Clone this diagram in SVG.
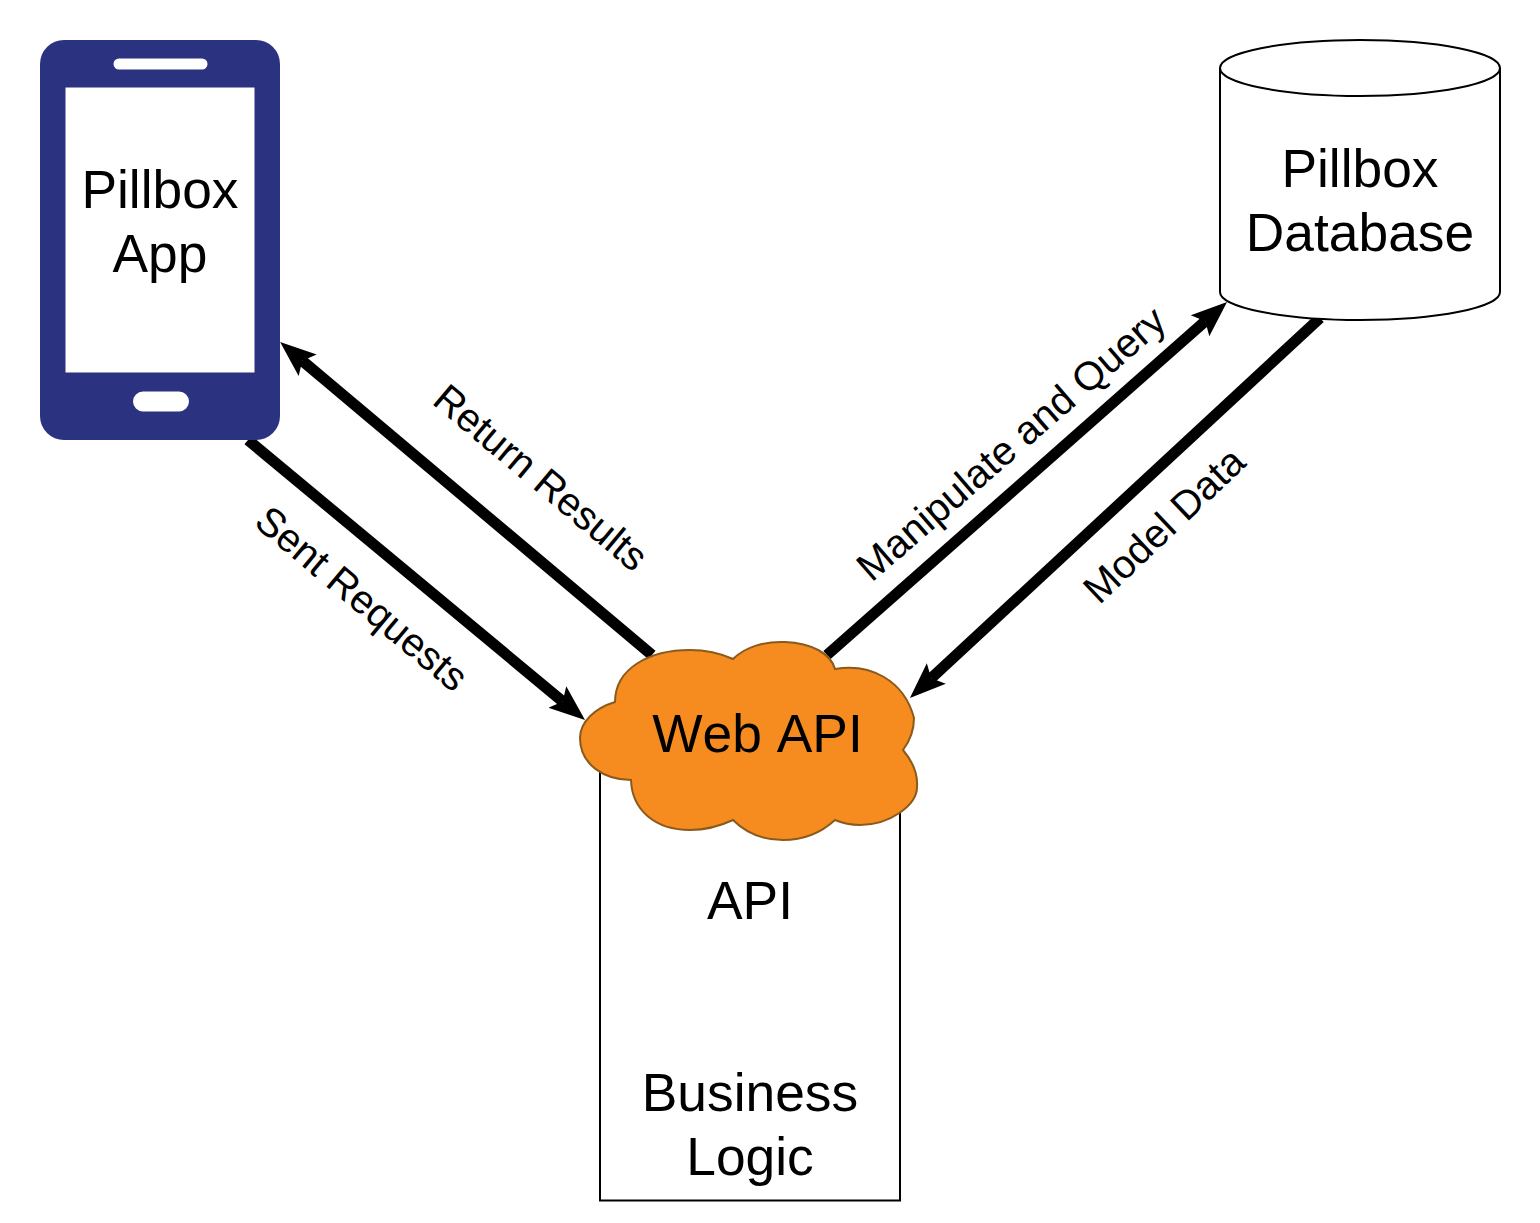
<svg xmlns="http://www.w3.org/2000/svg" width="1540" height="1223" viewBox="0 0 1540 1223">
<style>
text{font-family:"Liberation Sans",Arial,sans-serif;fill:#000;text-anchor:middle}
.big{font-size:53.33px}
.lab{font-size:40px}
.arrow{fill:none;stroke:#000;stroke-width:11;marker-end:url(#head)}
</style>
<defs>
<marker id="head" markerUnits="userSpaceOnUse" markerWidth="44" markerHeight="40" refX="7" refY="20" orient="auto">
<path d="M0 6 L36 20 L0 34 L7 20 Z" fill="#000"/>
</marker>
</defs>
<rect width="1540" height="1223" fill="#fff"/>
<g id="api">
<rect x="600" y="740" width="300" height="460.500" fill="#fff" stroke="#000" stroke-width="2"/>
<text class="big" x="750" y="919">API</text>
<text class="big" x="750" y="1111">Business</text>
<text class="big" x="750" y="1175">Logic</text>
</g>
<g id="connectors">
<line class="arrow" x1="248" y1="440" x2="562.700" y2="701.500"/>
<line class="arrow" x1="652" y1="655" x2="302.300" y2="360.700"/>
<line class="arrow" x1="827" y1="655" x2="1205.300" y2="321.200"/>
<line class="arrow" x1="1320" y1="318" x2="931.200" y2="678.300"/>
<text class="lab" transform="translate(532 488) rotate(40)">Return Results</text>
<text class="lab" transform="translate(353 609) rotate(40)">Sent Requests</text>
<text class="lab" transform="translate(1020 454) rotate(-41)">Manipulate and Query</text>
<text class="lab" transform="translate(1173.500 535) rotate(-43.500)">Model Data</text>
</g>
<g id="phone">
<path fill="#2b3380" fill-rule="evenodd" d="M64 40H256A24 24 0 0 1 280 64V416A24 24 0 0 1 256 440H64A24 24 0 0 1 40 416V64A24 24 0 0 1 64 40ZM65.500 87.500V372.500H254.500V87.500ZM119 58.500A5.500 5.500 0 0 0 119 69.500H202A5.500 5.500 0 0 0 202 58.500ZM143 391.500A10 10 0 0 0 143 411.500H179A10 10 0 0 0 179 391.500Z"/>
<text class="big" x="160" y="208">Pillbox</text>
<text class="big" x="160" y="272">App</text>
</g>
<g id="database">
<path d="M1220 68C1220 52.500 1282.700 40 1360 40S1500 52.500 1500 68V292C1500 307.500 1437.300 320 1360 320S1220 307.500 1220 292Z" fill="#fff" stroke="#000" stroke-width="2"/>
<path d="M1220 68C1220 83.500 1282.700 96 1360 96S1500 83.500 1500 68" fill="none" stroke="#000" stroke-width="2"/>
<text class="big" x="1360" y="187">Pillbox</text>
<text class="big" x="1360" y="251">Database</text>
</g>
<g id="web-api">
<path d="M615 702C615 668 650 650 690 650C708 650 722 654 733 659C745 647 765 641 785 642C812 643 831 654 835 669C870 663 904 680 914 718C914 730 909 742 903 750C913 762 918 775 917 787C917 805 890 825 860 825C850 825 842 823 835 820C822 832 805 840 783 840C762 840 745 832 733 820C718 827 705 830 690 830C655 830 632 810 631 780C605 780 580 765 580 738C580 722 595 708 615 702Z" fill="#f68b1f" stroke="#8a5a1c" stroke-width="2"/>
<text class="big" x="757.500" y="752" style="font-kerning:none">Web API</text>
</g>
</svg>
